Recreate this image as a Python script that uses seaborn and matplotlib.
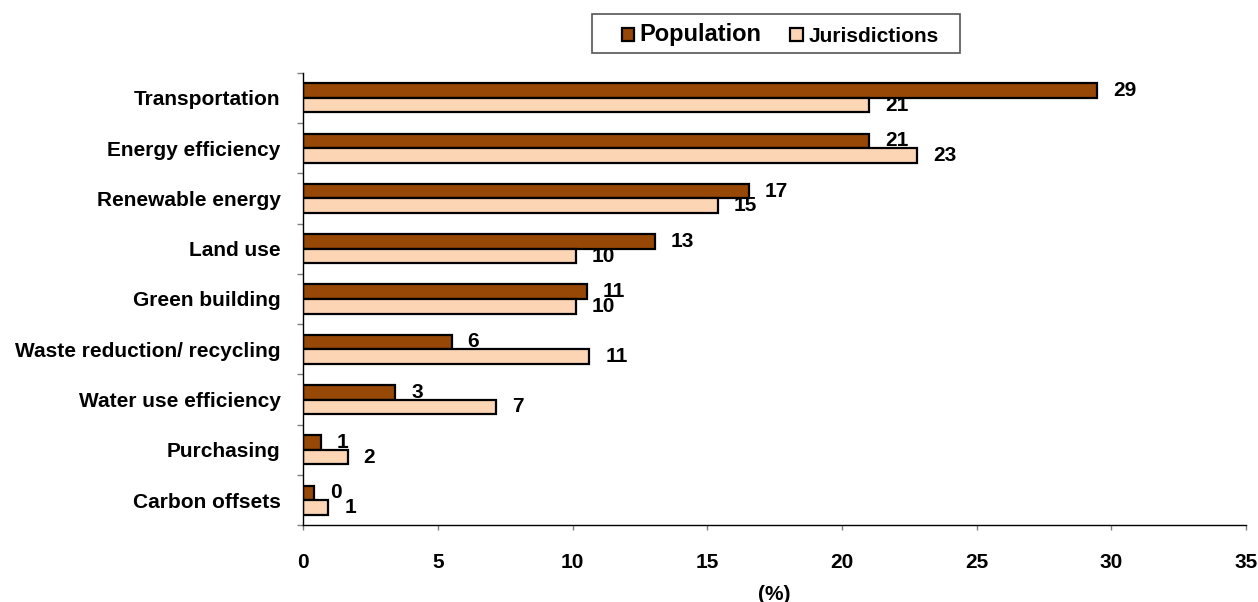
import matplotlib
matplotlib.use("Agg")
import matplotlib.pyplot as plt
import seaborn as sns
import pandas as pd
from matplotlib.patches import Patch, Rectangle
from matplotlib.ticker import FixedLocator

# Share of climate-action measures (%), by population and by jurisdictions
categories = [
    "Transportation",
    "Energy efficiency",
    "Renewable energy",
    "Land use",
    "Green building",
    "Waste reduction/ recycling",
    "Water use efficiency",
    "Purchasing",
    "Carbon offsets",
]
population = [29.46, 21.02, 16.53, 13.06, 10.52, 5.51, 3.41, 0.66, 0.41]
jurisdictions = [21.02, 22.78, 15.39, 10.13, 10.13, 10.62, 7.16, 1.65, 0.93]
series = ["Population", "Jurisdictions"]
colors = ["#974706", "#FCD5B4"]
x_ticks = [0, 5, 10, 15, 20, 25, 30, 35]

sns.set_theme(style="ticks")
plt.rcParams["font.family"] = ["Liberation Sans", "DejaVu Sans"]
plt.rcParams["font.weight"] = "bold"
for key in ("text.color", "axes.labelcolor", "xtick.labelcolor", "ytick.labelcolor"):
    plt.rcParams[key] = "black"

df = pd.DataFrame({
    "category": categories * 2,
    "value": population + jurisdictions,
    "series": [series[0]] * len(categories) + [series[1]] * len(categories),
})

W, H = 1258, 602
fig = plt.figure(figsize=(W / 100, H / 100), dpi=100)
ax = fig.add_axes([303.3 / W, 1 - 525.3 / H, (1246 - 303.3) / W, (525.3 - 72.7) / H])

sns.barplot(
    data=df, y="category", x="value", hue="series", hue_order=series,
    palette=colors, orient="h", width=0.58, gap=0, saturation=1,
    edgecolor="black", linewidth=1.6, legend=False, ax=ax,
)

for container in ax.containers:
    ax.bar_label(container, fmt="%.0f", padding=11.5, fontsize=15,
                 fontweight="bold", color="black")

ax.set_xlim(0, 35)
ax.set_ylim(len(categories) - 0.5, -0.5)
ax.xaxis.set_major_locator(FixedLocator(x_ticks))
ax.set_xticklabels([str(t) for t in x_ticks])
ax.yaxis.set_minor_locator(FixedLocator([i - 0.5 for i in range(len(categories) + 1)]))

ax.tick_params(axis="x", which="major", direction="out", length=3.6, width=1,
               color="#808080", pad=16, labelsize=15, labelcolor="black")
ax.tick_params(axis="y", which="major", length=0, pad=16.5, labelsize=15,
               labelcolor="black")
ax.tick_params(axis="y", which="minor", direction="out", length=4.3, width=1,
               color="#808080", left=True)
for lab in ax.get_xticklabels() + ax.get_yticklabels():
    lab.set_fontweight("bold")

ax.set_xlabel("(%)", fontsize=15, fontweight="bold", labelpad=10, color="black")
ax.set_ylabel("")

sns.despine(ax=ax)
for side in ("left", "bottom"):
    ax.spines[side].set_color("black")
    ax.spines[side].set_linewidth(1.0)

# Legend box drawn as a separate frame around a frameless legend
fig.patches.append(Rectangle(
    (592 / W, 1 - 53 / H), (960 - 592) / W, (53 - 14) / H,
    transform=fig.transFigure, facecolor="white", edgecolor="#555555",
    linewidth=1.2, zorder=0,
))
handles = [Patch(facecolor=c, edgecolor="black", linewidth=1.6) for c in colors]
leg = fig.legend(
    handles, series, loc="center", bbox_to_anchor=(780 / W, 1 - 35 / H),
    ncol=2, frameon=False, handlelength=0.6, handleheight=0.6,
    handletextpad=0.25, columnspacing=1.4, borderpad=0.3,
    prop={"weight": "bold", "size": 15},
)
leg.get_texts()[0].set_fontsize(17)

fig.savefig("out.png", dpi=100, facecolor="white")
